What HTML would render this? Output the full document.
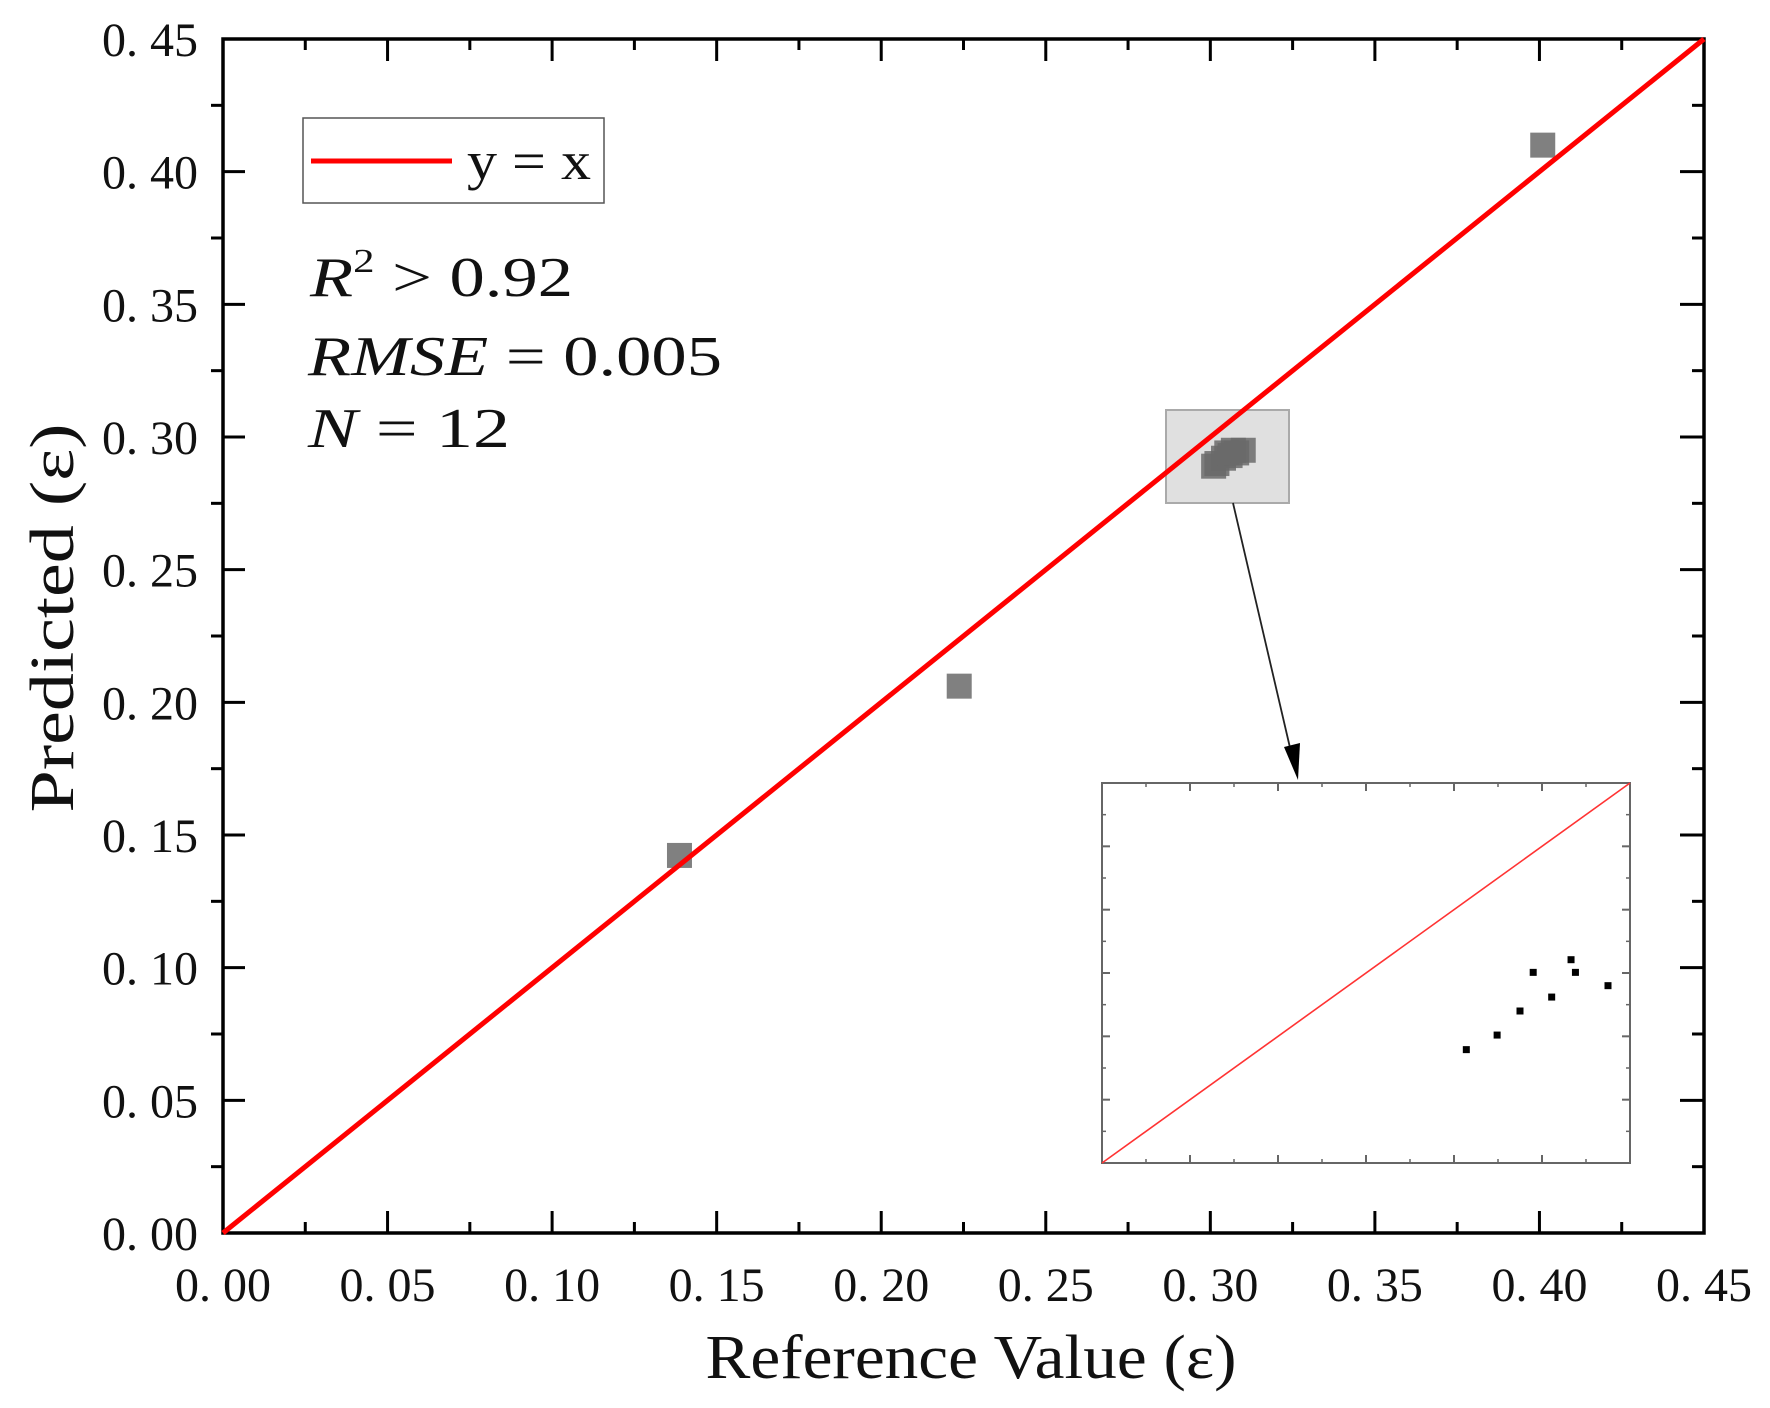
<!DOCTYPE html>
<html><head><meta charset="utf-8"><style>
html,body{margin:0;padding:0;background:#fff;}
svg{display:block;}
text{font-family:"Liberation Serif","Noto Serif CJK SC",serif;fill:#111;}
</style></head>
<body>
<svg id="chart" width="1770" height="1408" viewBox="0 0 1770 1408" xmlns="http://www.w3.org/2000/svg"></svg>
<script>
// ---- data ----
const xTicks = [0, 0.05, 0.10, 0.15, 0.20, 0.25, 0.30, 0.35, 0.40, 0.45];
const yTicks = [0, 0.05, 0.10, 0.15, 0.20, 0.25, 0.30, 0.35, 0.40, 0.45];
const tickLabels = ["0. 00","0. 05","0. 10","0. 15","0. 20","0. 25","0. 30","0. 35","0. 40","0. 45"];
const refX = [0.1387, 0.2237, 0.401, 0.301, 0.302, 0.304, 0.305, 0.306, 0.307, 0.308, 0.310];
const predY = [0.1423, 0.2061, 0.410, 0.289, 0.290, 0.292, 0.294, 0.293, 0.295, 0.294, 0.295];
const insetX = [4.14, 4.49, 4.75, 4.90, 5.11, 5.33, 5.38, 5.75];
const insetY = [1.79, 2.02, 2.40, 3.01, 2.62, 3.21, 3.01, 2.80];
const insetTicks = [0, 1, 2, 3, 4, 5, 6];

const NS = "http://www.w3.org/2000/svg";
const svg = document.getElementById("chart");
function mk(tag, attrs, parent) {
  const e = document.createElementNS(NS, tag);
  for (const k in attrs) e.setAttribute(k, attrs[k]);
  (parent || svg).appendChild(e);
  return e;
}
const L = 223, R = 1704, T = 39, B = 1233;
const xS = v => L + (v / 0.45) * (R - L);
const yS = v => B - (v / 0.45) * (B - T);

// ticks
for (let i = 0; i < xTicks.length; i++) {
  const x = xS(xTicks[i]);
  let t = mk("line", {x1:x, y1:B, x2:x, y2:B-22, stroke:"#000", "stroke-width":3});
  
  
  t = mk("line", {x1:x, y1:T, x2:x, y2:T+22, stroke:"#000", "stroke-width":3});
  
  
  const lb = mk("text", {x:x, y:1301, "font-size":48, "text-anchor":"middle"});
  lb.textContent = tickLabels[i];
  
  
  if (i < xTicks.length - 1) {
    const xm = xS(xTicks[i] + 0.025);
    t = mk("line", {x1:xm, y1:B, x2:xm, y2:B-11, stroke:"#000", "stroke-width":3});
    
    
    t = mk("line", {x1:xm, y1:T, x2:xm, y2:T+11, stroke:"#000", "stroke-width":3});
    
    
  }
}
for (let i = 0; i < yTicks.length; i++) {
  const y = yS(yTicks[i]);
  let t = mk("line", {x1:L, y1:y, x2:L+22, y2:y, stroke:"#000", "stroke-width":3});
  
  
  t = mk("line", {x1:R, y1:y, x2:R-24, y2:y, stroke:"#000", "stroke-width":3});
  
  
  const lb = mk("text", {x:198, y:y+17, "font-size":48, "text-anchor":"end"});
  lb.textContent = tickLabels[i];
  
  
  if (i < yTicks.length - 1) {
    const ym = yS(yTicks[i] + 0.025);
    t = mk("line", {x1:L, y1:ym, x2:L-12, y2:ym, stroke:"#000", "stroke-width":3});
    
    
    t = mk("line", {x1:R, y1:ym, x2:R-12, y2:ym, stroke:"#000", "stroke-width":3});
    
    
  }
}
const frame = mk("rect", {x:L, y:T, width:R-L, height:B-T, fill:"none", stroke:"#000", "stroke-width":3.5});



// zoom rect
const zr = mk("rect", {x:1166, y:410, width:123, height:93, fill:"#e0e0e0", stroke:"#aaa", "stroke-width":2});



// points
for (let i = 0; i < refX.length; i++) {
  const p = mk("rect", {x:xS(refX[i])-12.5, y:yS(predY[i])-12.5, width:25, height:25, fill:"#6a6a6a", "fill-opacity":0.85});
  
  
}
// y=x line
const ln = mk("line", {x1:xS(0), y1:yS(0), x2:xS(0.45), y2:yS(0.45), stroke:"#f00", "stroke-width":5});



// arrow
const ar = mk("line", {x1:1233, y1:503, x2:1291, y2:752, stroke:"#222", "stroke-width":1.8});


const ah = mk("polygon", {points:"1284,747 1300,743 1298,780", fill:"#000"});



// inset
const iL = 1102, iR = 1630, iT = 783, iB = 1163;
const ixS = v => iL + v / 6 * (iR - iL);
const iyS = v => iB - v / 6 * (iB - iT);
const ib = mk("rect", {x:iL, y:iT, width:iR-iL, height:iB-iT, fill:"#fff", stroke:"#666", "stroke-width":2});


for (let i = 0; i < insetTicks.length; i++) {
  const x = ixS(insetTicks[i]), y = iyS(insetTicks[i]);
  for (const [x1,y1,x2,y2] of [[x,iB,x,iB-8],[x,iT,x,iT+8],[iL,y,iL+8,y],[iR,y,iR-8,y]]) {
    const t = mk("line", {x1, y1, x2, y2, stroke:"#666", "stroke-width":2});
    
    
  }
  if (i < insetTicks.length - 1) {
    const xm = ixS(insetTicks[i] + 0.5), ym = iyS(insetTicks[i] + 0.5);
    for (const [x1,y1,x2,y2] of [[xm,iB,xm,iB-4],[xm,iT,xm,iT+4],[iL,ym,iL+4,ym],[iR,ym,iR-4,ym]]) {
      const t = mk("line", {x1, y1, x2, y2, stroke:"#666", "stroke-width":1.5});
      
      
    }
  }
}
const il = mk("line", {x1:ixS(0), y1:iyS(0), x2:ixS(6), y2:iyS(6), stroke:"#f33", "stroke-width":1.6});


for (let i = 0; i < insetX.length; i++) {
  const p = mk("rect", {x:ixS(insetX[i])-3.5, y:iyS(insetY[i])-3.5, width:7, height:7, fill:"#000"});
  
  
}

// legend
const lg = mk("g", {});


mk("rect", {x:303, y:118, width:301, height:85, fill:"#fff", stroke:"#555", "stroke-width":1.5}, lg);
mk("line", {x1:311, y1:161, x2:452, y2:161, stroke:"#f00", "stroke-width":5}, lg);
const lt = mk("text", {x:467, y:179, "font-size":54, textLength:124, lengthAdjust:"spacingAndGlyphs"}, lg);
lt.textContent = "y = x";

// stats
const s1 = mk("text", {x:310, y:296, "font-size":56, textLength:263, lengthAdjust:"spacingAndGlyphs"});


s1.innerHTML = '<tspan font-style="italic">R</tspan><tspan font-size="34" dy="-24">2</tspan><tspan dy="24"> &gt; 0.92</tspan>';
const s2 = mk("text", {x:308, y:375, "font-size":56, textLength:414, lengthAdjust:"spacingAndGlyphs"});


s2.innerHTML = '<tspan font-style="italic">RMSE</tspan> = 0.005';
const s3 = mk("text", {x:308, y:447, "font-size":56, textLength:202, lengthAdjust:"spacingAndGlyphs"});


s3.innerHTML = '<tspan font-style="italic">N</tspan> = 12';

// axis titles
const xt = mk("text", {x:971, y:1378, "font-size":62, "text-anchor":"middle", textLength:531, lengthAdjust:"spacingAndGlyphs"});
xt.textContent = "Reference Value (ε)";


const yt = mk("text", {x:0, y:0, "font-size":62, "text-anchor":"middle", textLength:389, lengthAdjust:"spacingAndGlyphs", transform:"translate(73,618) rotate(-90)"});
yt.textContent = "Predicted (ε)";


</script>
</body></html>
